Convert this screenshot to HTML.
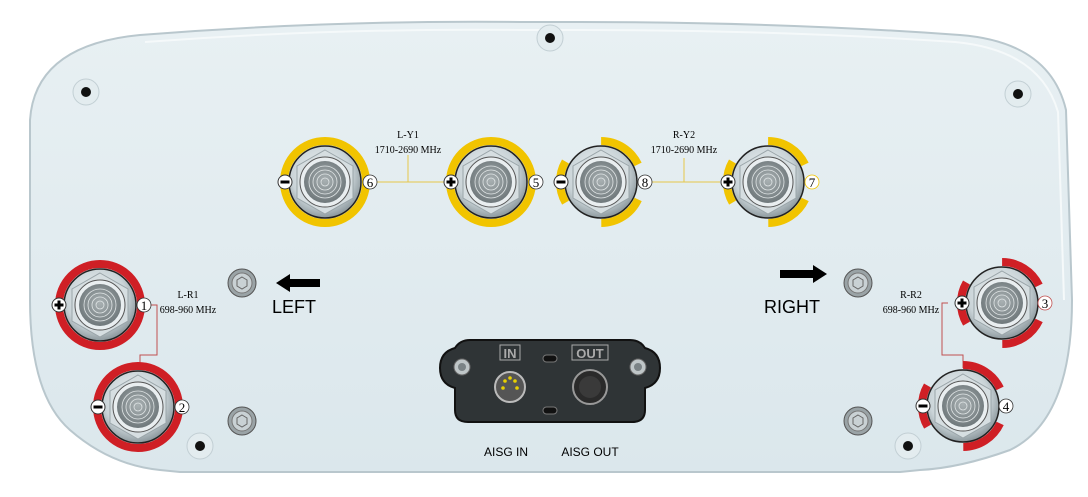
<!DOCTYPE html>
<html><head><meta charset="utf-8"><style>
html,body{margin:0;padding:0;background:#fff;width:1088px;height:497px;overflow:hidden}
svg{display:block}
text{font-family:"Liberation Serif",serif}
.s{font-family:"Liberation Sans",sans-serif}
</style></head><body>
<svg width="1088" height="497" viewBox="0 0 1088 497">
<defs>
<radialGradient id="body" cx="45%" cy="40%" r="60%">
<stop offset="0" stop-color="#f4f7f8"/><stop offset="0.7" stop-color="#c9d3d7"/><stop offset="1" stop-color="#8d999e"/>
</radialGradient>
<radialGradient id="cap" cx="50%" cy="45%" r="55%">
<stop offset="0" stop-color="#a9b1b3"/><stop offset="1" stop-color="#6f787b"/>
</radialGradient>
<linearGradient id="plate" x1="0" y1="0" x2="0" y2="1">
<stop offset="0" stop-color="#e8f0f3"/><stop offset="1" stop-color="#dbe7ec"/>
</linearGradient>
<g id="conn">
<circle r="36" fill="url(#body)" stroke="#222" stroke-width="1.5"/>
<polygon points="0,-32 28,-16 28,16 0,32 -28,16 -28,-16" fill="#d6dee1" stroke="#9aa5a9" stroke-width="1"/>
<circle r="25" fill="#e9eef0" stroke="#555" stroke-width="1"/>
<circle r="21" fill="url(#cap)"/>
<circle r="16" fill="none" stroke="#e0e5e6" stroke-width="0.8"/>
<circle r="12" fill="none" stroke="#e0e5e6" stroke-width="0.8"/>
<circle r="8" fill="none" stroke="#e0e5e6" stroke-width="0.8"/>
<circle r="4" fill="none" stroke="#e0e5e6" stroke-width="0.8"/>
</g>
<g id="screw">
<circle r="14" fill="#9aa3a6" stroke="#555" stroke-width="1"/>
<circle r="10" fill="#c9d1d4" stroke="#777" stroke-width="1"/>
<polygon points="0,-6 5,-3 5,3 0,6 -5,3 -5,-3" fill="none" stroke="#666"/>
</g>
<g id="hole">
<circle r="13" fill="#e3ecef" stroke="#c2cfd4"/>
<circle r="5" fill="#111"/>
</g>
<g id="plus"><circle r="7" fill="#fff" stroke="#333"/><path d="M-4.5 0H4.5M0 -4.5V4.5" stroke="#000" stroke-width="3"/></g>
<g id="minus"><circle r="7" fill="#fff" stroke="#333"/><path d="M-4.5 0H4.5" stroke="#000" stroke-width="3"/></g>
</defs>

<!-- plate -->
<path d="M140 35 Q330 20 520 22 L580 22 Q780 22 960 35 Q1050 42 1066 110 L1072 300 Q1072 420 1010 450 Q960 468 920 470 L900 472 L180 472 L160 470 Q110 465 70 430 Q30 395 30 300 L30 120 Q35 45 140 35 Z" fill="url(#plate)" stroke="#b9c7cd" stroke-width="2"/>
<path d="M145 42 Q330 28 520 30 L580 30 Q780 30 955 42 Q1040 50 1058 112 L1064 300" fill="none" stroke="#f5f9fa" stroke-width="2"/>

<use href="#hole" x="86" y="92"/><use href="#hole" x="550" y="38"/><use href="#hole" x="1018" y="94"/>
<use href="#hole" x="200" y="446"/><use href="#hole" x="908" y="446"/>

<use href="#screw" x="242" y="283"/><use href="#screw" x="242" y="421"/>
<use href="#screw" x="858" y="283"/><use href="#screw" x="858" y="421"/>

<!-- lines -->
<g stroke="#e6c84a" stroke-width="1" fill="none">
<path d="M372 182H445M408 182V155"/><path d="M645 182H720M684 182V158"/>
</g>
<g stroke="#c05050" stroke-width="1" fill="none">
<path d="M150 305H157V355H140V368"/><path d="M948 303H942V355H963V368"/>
</g>

<!-- yellow connectors -->
<circle cx="325" cy="182" r="41" fill="none" stroke="#f1c400" stroke-width="8"/>
<use href="#conn" x="325" y="182"/>
<circle cx="491" cy="182" r="41" fill="none" stroke="#f1c400" stroke-width="8"/>
<use href="#conn" x="491" y="182"/>
<circle cx="601" cy="182" r="41" fill="none" stroke="#f1c400" stroke-width="8" stroke-dasharray="0 18 46 43 43 43 46 18"/>
<use href="#conn" x="601" y="182"/>
<circle cx="768" cy="182" r="41" fill="none" stroke="#f1c400" stroke-width="8" stroke-dasharray="0 18 46 43 43 43 46 18"/>
<use href="#conn" x="768" y="182"/>

<!-- red connectors -->
<circle cx="100" cy="305" r="41" fill="none" stroke="#cf1f25" stroke-width="8"/>
<use href="#conn" x="100" y="305"/>
<circle cx="138" cy="407" r="41" fill="none" stroke="#cf1f25" stroke-width="8"/>
<use href="#conn" x="138" y="407"/>
<circle cx="1002" cy="303" r="41" fill="none" stroke="#cf1f25" stroke-width="8" stroke-dasharray="0 18 46 43 43 43 46 18"/>
<use href="#conn" x="1002" y="303"/>
<circle cx="963" cy="406" r="41" fill="none" stroke="#cf1f25" stroke-width="8" stroke-dasharray="0 18 46 43 43 43 46 18"/>
<use href="#conn" x="963" y="406"/>

<!-- polarity -->
<use href="#minus" x="285" y="182"/><use href="#plus" x="451" y="182"/>
<use href="#minus" x="561" y="182"/><use href="#plus" x="728" y="182"/>
<use href="#plus" x="59" y="305"/><use href="#minus" x="98" y="407"/>
<use href="#plus" x="962" y="303"/><use href="#minus" x="923" y="406"/>

<!-- numbers -->
<g font-size="13" text-anchor="middle">
<circle cx="370" cy="182" r="7" fill="#fff" stroke="#333" stroke-width=".8"/><text x="370" y="187">6</text>
<circle cx="536" cy="182" r="7" fill="#fff" stroke="#333" stroke-width=".8"/><text x="536" y="187">5</text>
<circle cx="645" cy="182" r="7" fill="#fff" stroke="#333" stroke-width=".8"/><text x="645" y="187">8</text>
<circle cx="812" cy="182" r="7" fill="#fff" stroke="#f1c400" stroke-width=".8"/><text x="812" y="187">7</text>
<circle cx="144" cy="305" r="7" fill="#fff" stroke="#333" stroke-width=".8"/><text x="144" y="310">1</text>
<circle cx="182" cy="407" r="7" fill="#fff" stroke="#333" stroke-width=".8"/><text x="182" y="412">2</text>
<circle cx="1045" cy="303" r="7" fill="#fff" stroke="#c05050" stroke-width=".8"/><text x="1045" y="308">3</text>
<circle cx="1006" cy="406" r="7" fill="#fff" stroke="#333" stroke-width=".8"/><text x="1006" y="411">4</text>
</g>

<g font-size="10" text-anchor="middle">
<text x="408" y="138">L-Y1</text><text x="408" y="153">1710-2690 MHz</text>
<text x="684" y="138">R-Y2</text><text x="684" y="153">1710-2690 MHz</text>
<text x="188" y="298">L-R1</text><text x="188" y="313">698-960 MHz</text>
<text x="911" y="298">R-R2</text><text x="911" y="313">698-960 MHz</text>
</g>

<!-- arrows -->
<path d="M276 283 L290 274 V279 H320 V287 H290 V292 Z" fill="#000"/>
<text class="s" x="272" y="313" font-size="18">LEFT</text>
<path d="M827 274 L813 265 V270 H780 V278 H813 V283 Z" fill="#000"/>
<text class="s" x="764" y="313" font-size="18">RIGHT</text>

<!-- AISG plate -->
<path d="M470 340 H630 Q640 340 645 348 Q660 352 660 368 Q660 384 645 388 V410 Q645 422 632 422 H468 Q455 422 455 410 V388 Q440 384 440 368 Q440 352 455 348 Q460 340 470 340 Z" fill="#2f3436" stroke="#111" stroke-width="2"/>
<circle cx="462" cy="367" r="8" fill="#bfc6c8" stroke="#666"/><circle cx="462" cy="367" r="4" fill="#7b8386"/>
<circle cx="638" cy="367" r="8" fill="#bfc6c8" stroke="#666"/><circle cx="638" cy="367" r="4" fill="#7b8386"/>
<rect x="543" y="355" width="14" height="7" rx="3.5" fill="#111" stroke="#777"/>
<rect x="543" y="407" width="14" height="7" rx="3.5" fill="#111" stroke="#777"/>
<rect x="500" y="345" width="20" height="15" fill="none" stroke="#aaa"/>
<text class="s" x="510" y="358" font-size="13" font-weight="bold" fill="#aaa" text-anchor="middle">IN</text>
<rect x="572" y="345" width="36" height="15" fill="none" stroke="#aaa"/>
<text class="s" x="590" y="358" font-size="13" font-weight="bold" fill="#aaa" text-anchor="middle">OUT</text>
<circle cx="510" cy="387" r="15" fill="#555" stroke="#bbb" stroke-width="2"/>
<g fill="#e8d000"><circle cx="505" cy="381" r="1.8"/><circle cx="515" cy="381" r="1.8"/><circle cx="503" cy="388" r="1.8"/><circle cx="517" cy="388" r="1.8"/><circle cx="510" cy="378" r="1.8"/></g>
<circle cx="590" cy="387" r="17" fill="#2a2a2a" stroke="#999" stroke-width="2"/>
<circle cx="590" cy="387" r="11" fill="#3a3a3a"/>
<text class="s" x="506" y="456" font-size="12" text-anchor="middle">AISG IN</text>
<text class="s" x="590" y="456" font-size="12" text-anchor="middle">AISG OUT</text>
</svg>
</body></html>
